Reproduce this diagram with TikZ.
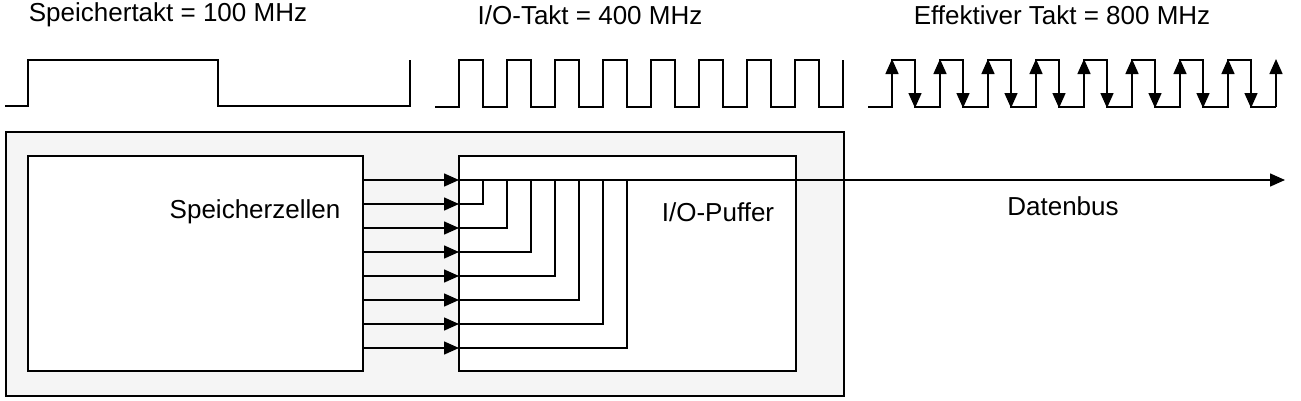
\documentclass[tikz,border=0pt]{standalone}
\usepackage{fontspec}
\setmainfont{Liberation Sans}
\usetikzlibrary{arrows.meta}
\begin{document}
\begin{tikzpicture}[x=1pt,y=-1pt,
  line width=1.5pt,
  lbl/.style={font=\fontsize{26}{30}\selectfont,inner sep=0pt},
  tip/.style={-{Triangle[length=15pt,width=13pt]}},
  box/.style={draw,line width=1.5pt,inner sep=0pt,anchor=north west}]
\useasboundingbox (0,0) rectangle (1301,400);
% titles
\node[lbl] (t1) at (168,15) {Speichertakt = 100 MHz};
\node[lbl] (t2) at (590,15) {I/O-Takt = 400 MHz};
\node[lbl] (t3) at (1062,15) {Effektiver Takt = 800 MHz};
% clock 1
\draw (5,106) -- (28,106) -- (28,60) -- (218,60) -- (218,106) -- (410,106) -- (410,60);
% clock 2
\draw (435,107) foreach \k in {0,...,7} { -- (459+48*\k,107) -- (459+48*\k,60) -- (483+48*\k,60) -- (483+48*\k,107) } -- (843,107) -- (843,60);
% clock 3
\draw (868,107) foreach \k in {0,...,7} { -- (892+48*\k,107) -- (892+48*\k,60) -- (915+48*\k,60) -- (915+48*\k,107) } -- (1276,107);
\foreach \k in {0,...,8} \draw[tip] (892+48*\k,107) -- (892+48*\k,59);
\foreach \k in {0,...,7} \draw[tip] (915+48*\k,60) -- (915+48*\k,108);
% boxes
\node[box,fill=black!4,minimum width=838pt,minimum height=264pt] (outer) at (5,131) {};
\node[box,fill=white,minimum width=335pt,minimum height=215pt] (mem) at (27,155) {};
\node[box,fill=white,minimum width=337pt,minimum height=215pt] (buf) at (458,155) {};
\node[lbl] (lmem) at (255,212) {Speicherzellen};
\node[lbl] (lbuf) at (718,212) {I/O-Puffer};
\node[lbl] (lbus) at (1063,206) {Datenbus};
% arrows
\foreach \k in {0,...,7} \draw[tip] (362,180+24*\k) -- (459,180+24*\k);
\coordinate (busend) at (1285,180);
\draw[tip] (458,180) -- (busend);
\foreach \k in {1,...,7} \draw (458,180+24*\k) -- (483+24*\k-24,180+24*\k) -- (483+24*\k-24,180);
\end{tikzpicture}
\end{document}
